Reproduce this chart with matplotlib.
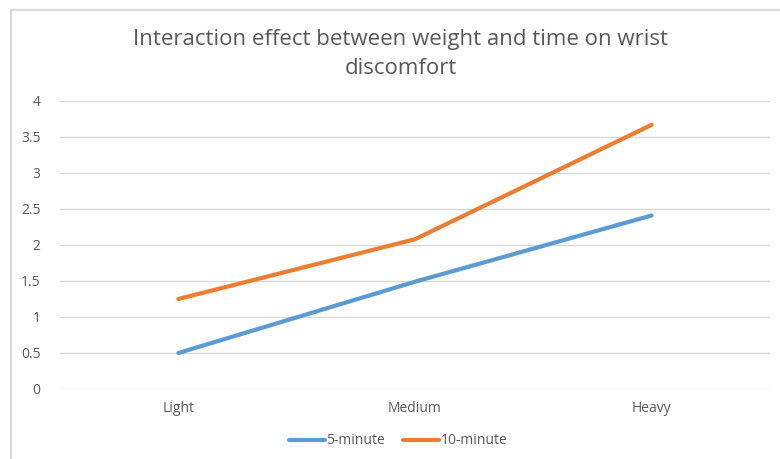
import matplotlib.pyplot as plt
from matplotlib.lines import Line2D

categories = ['Light', 'Medium', 'Heavy']
five_min = [0.5, 1.49, 2.41]
ten_min = [1.25, 2.08, 3.67]
yticks = [0, 0.5, 1, 1.5, 2, 2.5, 3, 3.5, 4]
ytick_labels = ['0', '0.5', '1', '1.5', '2', '2.5', '3', '3.5', '4']

plt.rcParams['font.family'] = ['Open Sans', 'DejaVu Sans']

fig = plt.figure(figsize=(7.8, 4.59), dpi=100)
ax = fig.add_axes([60/780, 1-389/459, 710/780, 288/459])

x = range(len(categories))
ax.plot(x, five_min, color='#5b9bd5', lw=3, solid_capstyle='round', label='5-minute')
ax.plot(x, ten_min, color='#ed7d31', lw=3, solid_capstyle='round', label='10-minute')

ax.set_xlim(-0.5, 2.5)
ax.set_ylim(0, 4)
ax.set_yticks(yticks)
ax.set_yticklabels(ytick_labels)
ax.set_xticks(list(x))
ax.set_xticklabels(categories)
ax.grid(axis='y', color='#d9d9d9', lw=1)
ax.set_axisbelow(True)
for s in ax.spines.values():
    s.set_visible(False)
ax.tick_params(length=0, colors='#595959', labelsize=10)
ax.tick_params(axis='y', pad=14)
ax.tick_params(axis='x', pad=9)

fig.text(0.514, 1-54/459, 'Interaction effect between weight and time on wrist\ndiscomfort',
         ha='center', va='center', fontsize=16, color='#595959', linespacing=1.5)

fig.legend(loc='center', bbox_to_anchor=(0.51, 1-441/459), ncol=2, frameon=False,
           fontsize=10, labelcolor='#595959', handlelength=2.6, handletextpad=0.1,
           columnspacing=1.3)

# chart area border
fig.add_artist(Line2D([11/780, 11/780], [0, 1-10/459], color='#d9d9d9', lw=1.5))
fig.add_artist(Line2D([11/780, 1], [1-10/459, 1-10/459], color='#d9d9d9', lw=1.5))

fig.savefig('out.png', dpi=100)
